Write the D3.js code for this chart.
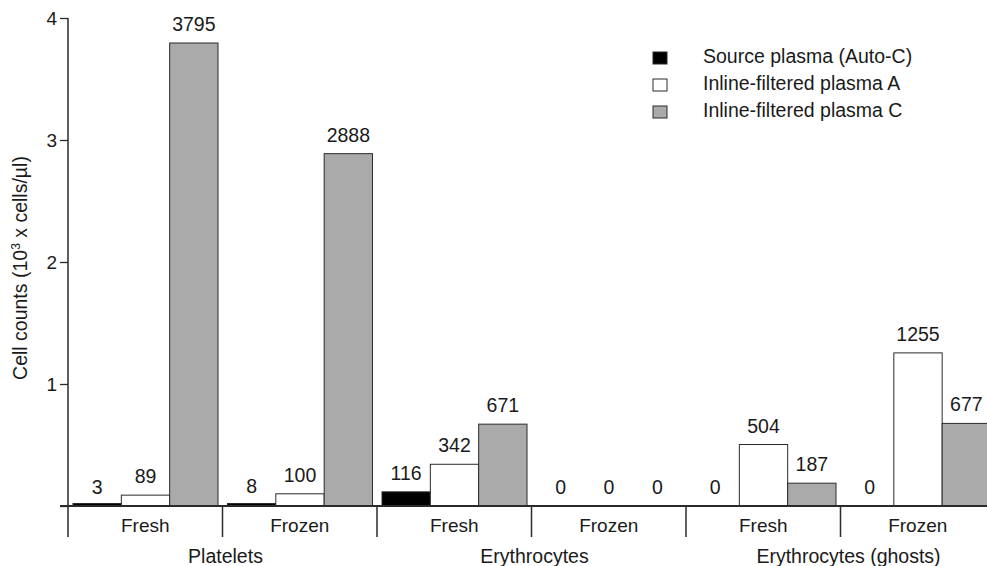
<!DOCTYPE html>
<html>
<head>
<meta charset="utf-8">
<script src="https://cdn.jsdelivr.net/npm/d3@7"></script>
<style>
  html, body { margin: 0; padding: 0; background: #fff; }
  svg { display: block; font-family: "Liberation Sans", Arial, Helvetica, sans-serif; }
  text { fill: #1a1a1a; }
</style>
</head>
<body>
<svg id="chart" width="987" height="566"></svg>
<script>
// data (cells/µl)
const categories = ["Platelets", "Erythrocytes", "Erythrocytes (ghosts)"];
const conditions = ["Fresh", "Frozen"];
const seriesNames = ["Source plasma (Auto-C)", "Inline-filtered plasma A", "Inline-filtered plasma C"];
const seriesColors = ["#000000", "#ffffff", "#aaaaaa"];
const sourceValues = [3, 8, 116, 0, 0, 0];
const filteredA = [89, 100, 342, 0, 504, 1255];
const filteredC = [3795, 2888, 671, 0, 187, 677];
const yTicks = [0, 1, 2, 3, 4];

const svg = d3.select("#chart");

// one group per category x condition
const groups = [];
categories.forEach(c => conditions.forEach(k => groups.push(c + "|" + k)));
const seriesValues = [sourceValues, filteredA, filteredC];

const x0 = d3.scaleBand().domain(groups).range([68, 995]).padding(0);
const x1 = d3.scaleBand().domain(seriesNames).range([5, x0.bandwidth() - 4.5]).padding(0);
const y = d3.scaleLinear().domain([0, 4]).range([506, 18]);

const baseY = y(0);
const bottomY = 537;

// bars
const barData = [];
groups.forEach((g, i) => {
  seriesNames.forEach((s, j) => {
    barData.push({ group: g, series: s, color: seriesColors[j], value: seriesValues[j][i] });
  });
});

svg.append("g").selectAll("rect")
  .data(barData.filter(d => d.value > 0))
  .enter()
  .append("rect")
  .attr("x", d => x0(d.group) + x1(d.series))
  .attr("y", d => Math.min(y(d.value / 1000), baseY - 2.5))
  .attr("width", x1.bandwidth())
  .attr("height", d => Math.max(baseY - y(d.value / 1000), 2.5))
  .attr("fill", d => d.color)
  .attr("stroke", "#2a2a2a")
  .attr("stroke-width", 1);

// value labels (the ghost Frozen group only shows the source value)
svg.append("g").selectAll("text")
  .data(barData.filter(d => !(d.group.startsWith("Erythrocytes (ghosts)") && d.value === 0 && d.series !== seriesNames[0])))
  .enter()
  .append("text")
  .attr("x", d => x0(d.group) + x1(d.series) + x1.bandwidth() / 2)
  .attr("y", d => y(d.value / 1000) - 12)
  .attr("text-anchor", "middle")
  .style("font-size", "19.5px")
  .text(d => d.value);

// y axis
const yAxis = d3.axisLeft(y)
  .tickValues(yTicks)
  .tickFormat(d => d === 0 ? "" : d)
  .tickSize(8)
  .tickPadding(3);

const ag = svg.append("g")
  .attr("transform", "translate(68,0)")
  .call(yAxis);
ag.select(".domain").remove();
ag.selectAll(".tick line").attr("stroke", "#2a2a2a").attr("stroke-width", 1.3);
ag.selectAll(".tick text")
  .style("font-size", "19px")
  .style("font-family", "'Liberation Sans', Arial, sans-serif")
  .attr("fill", "#1a1a1a");

svg.append("line")
  .attr("x1", 68).attr("x2", 68)
  .attr("y1", y(4)).attr("y2", bottomY)
  .attr("stroke", "#2a2a2a").attr("stroke-width", 1.5);

// baseline
svg.append("line")
  .attr("x1", 60).attr("x2", 995)
  .attr("y1", baseY).attr("y2", baseY)
  .attr("stroke", "#2a2a2a").attr("stroke-width", 2);

// group separators
svg.append("g").selectAll("line")
  .data(groups.slice(1).concat(["end"]))
  .enter()
  .append("line")
  .attr("x1", d => d === "end" ? 995 : x0(d))
  .attr("x2", d => d === "end" ? 995 : x0(d))
  .attr("y1", baseY).attr("y2", bottomY)
  .attr("stroke", "#2a2a2a").attr("stroke-width", 1.5);

// condition labels
svg.append("g").selectAll("text")
  .data(groups)
  .enter()
  .append("text")
  .attr("x", d => x0(d) + x0.bandwidth() / 2)
  .attr("y", 532)
  .attr("text-anchor", "middle")
  .style("font-size", "19px")
  .text(d => d.split("|")[1]);

// category labels
svg.append("g").selectAll("text")
  .data(categories)
  .enter()
  .append("text")
  .attr("x", c => (x0(c + "|Fresh") + x0(c + "|Frozen") + x0.bandwidth()) / 2 + (c === "Erythrocytes (ghosts)" ? 8 : 3))
  .attr("y", 563)
  .attr("text-anchor", "middle")
  .style("font-size", "19.5px")
  .text(c => c);

// y title
const title = svg.append("text")
  .attr("transform", "translate(27,268) rotate(-90)")
  .attr("text-anchor", "middle")
  .style("font-size", "19.5px");
title.append("tspan").text("Cell counts (10");
title.append("tspan").attr("dy", -7).style("font-size", "12px").text("3");
title.append("tspan").attr("dy", 7).text(" x cells/µl)");

// legend
const legend = svg.append("g").attr("transform", "translate(653,52)");
const li = legend.selectAll("g")
  .data(seriesNames)
  .enter()
  .append("g")
  .attr("transform", (d, i) => `translate(0,${i * 27})`);
li.append("rect")
  .attr("width", 14).attr("height", 12)
  .attr("fill", (d, i) => seriesColors[i])
  .attr("stroke", "#2a2a2a").attr("stroke-width", 1);
li.append("text")
  .attr("x", 50).attr("y", 11)
  .style("font-size", "19.5px")
  .text(d => d);
</script>
</body>
</html>
